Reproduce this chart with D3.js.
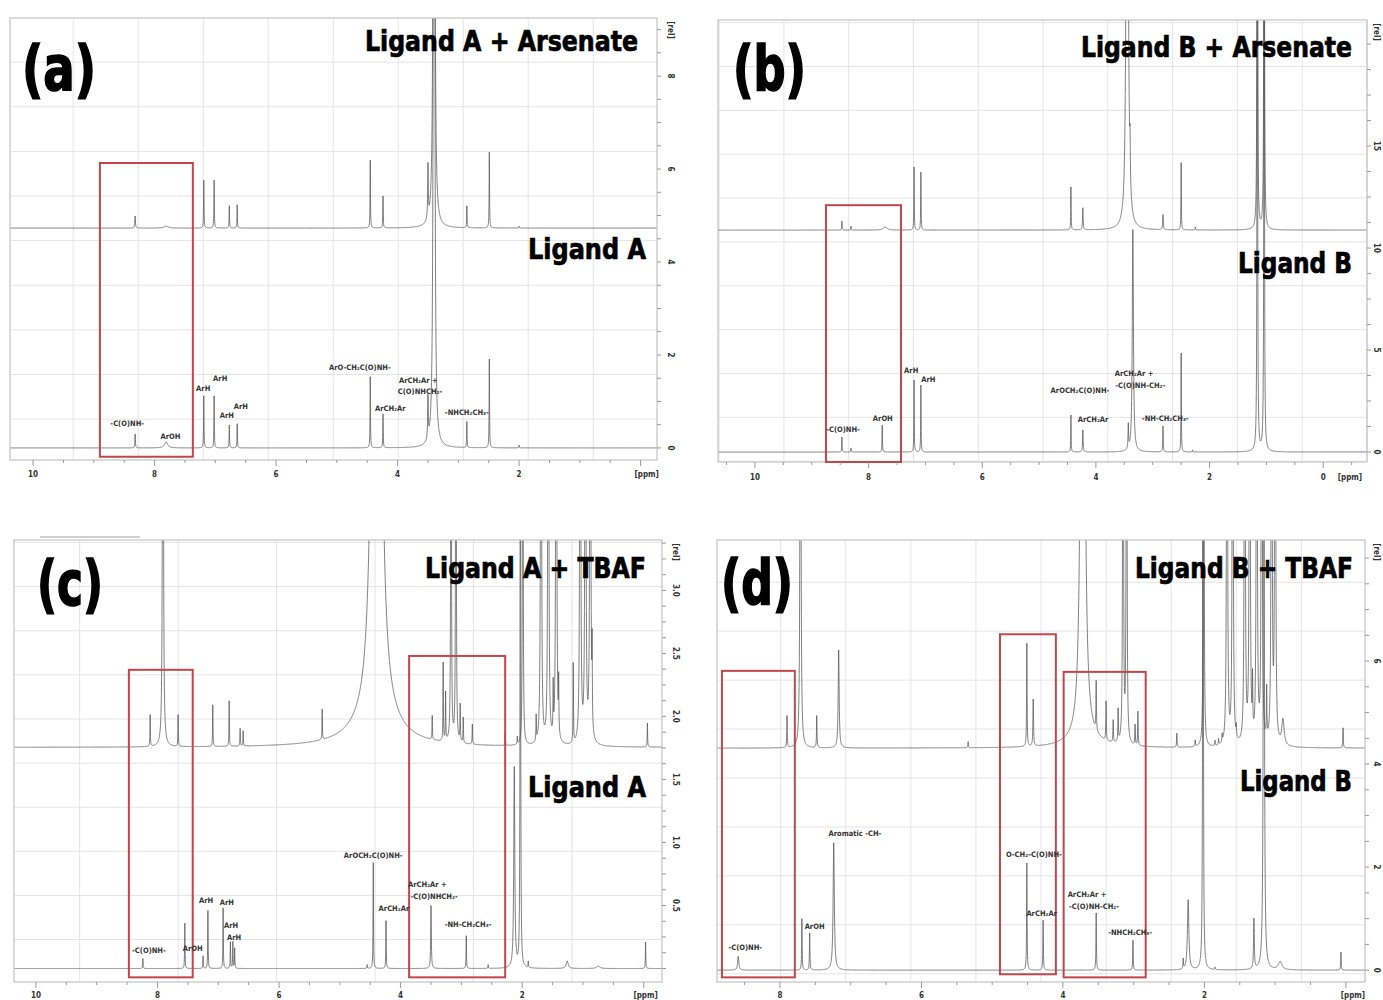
<!DOCTYPE html>
<html>
<head>
<meta charset="utf-8">
<script src="https://cdn.jsdelivr.net/npm/d3@7"></script>
<style>
body { margin: 0; background: #fff; }
svg text { font-family: "Liberation Sans Narrow", "DejaVu Sans Condensed", "Liberation Sans", sans-serif; }
.title { font-weight: bold; fill: #000; stroke: #000; stroke-width: 0.7px; }
.letter { font-weight: bold; fill: #000; stroke: #000; stroke-width: 1.6px; }
.plabel { font-weight: bold; font-size: 7.5px; fill: #333; }
.tlabel { font-weight: bold; font-size: 8px; fill: #333; }
</style>
</head>
<body>
<svg id="fig" width="1383" height="1000"></svg>
<script>
(function(){

// ---- data: peaks are [ppm, height (rel), half width (ppm, optional)] ----

// (a) Ligand A + Arsenate / Ligand A
let aTitle = "Ligand A + Arsenate", aSub = "Ligand A";
let aPpm = [10.38, -0.27], aRel = [-0.26, 9.25], aTopBase = 4.73;
let aTopPeaks = [[8.32,0.26,0.006],[7.81,0.04,0.04],[7.19,1.03],[7.02,1.03],[6.77,0.48],[6.64,0.5],
  [4.45,1.46],[4.24,0.69],[3.50,1.16,0.006],[3.40,40,0.008],[2.86,0.47],[2.49,1.63],[2.0,0.04]];
let aBotPeaks = [[8.32,0.30,0.005],[7.81,0.13,0.03],[7.19,1.12],[7.02,1.12],[6.77,0.49],[6.64,0.52],
  [4.45,1.53],[4.24,0.73],[3.50,0.90,0.006],[3.40,40,0.008],[2.86,0.56],[2.49,1.91],[2.0,0.06]];
let aBoxes = [[8.90,7.37,6.13,-0.19]];
let aLabels = [["-C(O)NH-",8.45,0.47],["ArOH",7.74,0.19],["ArH",7.20,1.23],["ArH",6.92,1.44],
  ["ArH",6.81,0.65],["ArH",6.58,0.84],["ArO-CH\u2082C(O)NH-",4.62,1.68],["ArCH\u2082Ar +",3.66,1.40],
  ["C(O)NHCH\u2082-",3.63,1.16],["ArCH\u2082Ar",4.12,0.80],["-NHCH\u2082CH\u2083-",2.86,0.71]];
let aXTicks = [[10,"10"],[8,"8"],[6,"6"],[4,"4"],[2,"2"],[-0.1,"[ppm]"]];
let aYTicks = [0,2,4,6,8];

// (b) Ligand B + Arsenate / Ligand B
let bTitle = "Ligand B + Arsenate", bSub = "Ligand B";
let bPpm = [10.65, -0.77], bRel = [-0.49, 21.18], bTopBase = 10.88;
let bTopPeaks = [[8.47,0.44],[8.31,0.2],[7.71,0.15,0.04],[7.20,3.09],[7.08,2.84],[4.44,2.11],
  [4.23,1.08,0.006],[3.45,60,0.012],[3.40,1.9,0.006],[2.82,0.74,0.006],[2.50,3.3],[2.25,0.15],
  [1.16,60],[1.04,60]];
let bBotPeaks = [[8.47,0.74],[8.31,0.2],[7.76,1.32],[7.20,3.53],[7.08,3.28],[4.44,1.81],
  [4.23,1.08,0.006],[3.43,1.2,0.006],[3.35,10.9,0.012],[2.82,1.27,0.005],[2.50,4.85],[2.3,0.1],
  [1.16,60],[1.04,60]];
let bBoxes = [[8.75,7.43,12.1,-0.49]];
let bLabels = [["-C(O)NH-",8.45,0.98],["ArOH",7.75,1.52],["ArH",7.25,3.87],["ArH",6.95,3.43],
  ["ArOCH\u2082C(O)NH-",4.28,2.89],["ArCH\u2082Ar",4.05,1.47],["ArCH\u2082Ar +",3.33,3.73],
  ["-C(O)NH-CH\u2082-",3.22,3.14],["-NH-CH\u2082CH\u2083-",2.78,1.52]];
let bXTicks = [[10,"10"],[8,"8"],[6,"6"],[4,"4"],[2,"2"],[0,"0"],[-0.47,"[ppm]"]];
let bYTicks = [0,5,10,15];

// (c) Ligand A + TBAF / Ligand A
let cTitle = "Ligand A + TBAF", cSub = "Ligand A";
let cPpm = [10.36, -0.30], cRel = [-0.107, 3.40], cTopBase = 1.754;
let cTopPeaks = [[8.12,0.25],[7.91,8,0.006],[7.66,0.25],[7.09,0.33],[6.82,0.36],[6.64,0.14],[6.59,0.12],
  [5.29,0.24],[4.395,27,0.03],[4.395,0.2,0.4],[3.48,0.19],[3.30,0.62],[3.26,0.38],[3.17,8],[3.09,8],
  [3.02,0.29],[2.97,0.2],[2.82,0.16],[2.28,0.1],[2.08,0.06],[1.99,8],[1.77,0.2],[1.69,8,0.006],
  [1.57,8,0.006],[1.49,0.38],[1.44,8,0.006],[1.40,0.4],[1.16,0.63],[1.045,8,0.006],[0.96,8,0.006],
  [0.88,8,0.006],[0.85,0.6],[-0.06,0.19]];
let cBotPeaks = [[8.24,0.08],[7.55,0.36],[7.25,0.1],[7.17,0.46],[6.92,0.48],[6.80,0.21],[6.76,0.21],
  [6.73,0.16],[4.55,0.03],[4.45,0.84],[4.24,0.38],[3.50,0.5,0.006],[2.92,0.26],[2.56,0.03],
  [2.13,1.59,0.01],[2.03,8],[1.90,0.05],[1.26,0.06,0.02],[0.75,0.02,0.03],[-0.03,0.21]];
let cBoxes = [[8.47,7.42,2.37,-0.07],[3.86,2.28,2.48,-0.07]];
let cLabels = [["-C(O)NH-",8.14,0.12],["ArOH",7.42,0.14],["ArH",7.20,0.52],["ArH",6.86,0.50],
  ["ArH",6.79,0.32],["ArH",6.74,0.23],["ArOCH\u2082C(O)NH-",4.45,0.88],["ArCH\u2082Ar",4.11,0.46],
  ["ArCH\u2082Ar +",3.56,0.65],["-C(O)NHCH\u2082-",3.45,0.55],["-NH-CH\u2082CH\u2083-",2.89,0.33]];
let cXTicks = [[10,"10"],[8,"8"],[6,"6"],[4,"4"],[2,"2"],[-0.03,"[ppm]"]];
let cYTicks = [0.5,1.0,1.5,2.0,2.5,3.0];

// (d) Ligand B + TBAF / Ligand B
let dTitle = "Ligand B + TBAF", dSub = "Ligand B";
let dPpm = [8.89, -0.27], dRel = [-0.23, 8.35], dTopBase = 4.31;
let dTopPeaks = [[7.90,0.62],[7.71,20,0.005],[7.48,0.62],[7.17,1.9,0.008],[5.34,0.12],[4.51,2.0],
  [4.42,0.91,0.005],[3.72,25,0.02],[3.72,0.12,0.3],[3.53,0.95],[3.39,0.76],[3.29,0.43],[3.22,0.62],
  [3.15,20],[3.10,20],[2.98,0.39],[2.94,0.66],[2.39,0.27],[2.13,0.12],[2.01,20],[1.85,0.1],[1.80,0.12],
  [1.75,0.15],[1.68,20,0.005],[1.60,20,0.005],[1.55,0.2],[1.43,20,0.005],[1.36,20,0.005],[1.32,1.0],
  [1.26,20,0.005],[1.19,20,0.005],[1.12,0.95],[1.05,20,0.005],[1.0,20,0.005],[0.89,0.5,0.02],[0.04,0.39]];
let dBotPeaks = [[8.59,0.27,0.01],[7.69,1.0],[7.58,0.72],[7.24,2.47,0.01],[4.51,2.08],[4.28,0.97],
  [3.53,1.11],[3.01,0.58],[2.30,0.19],[2.23,1.36,0.012],[2.02,20],[1.85,0.05],[1.30,0.97,0.006],
  [1.16,20,0.006],[0.93,0.16,0.03],[0.07,0.35]];
let dBoxes = [[8.82,7.79,5.81,-0.14],[4.89,4.10,6.52,-0.08],[3.99,2.83,5.79,-0.14]];
let dLabels = [["-C(O)NH-",8.49,0.39],["ArOH",7.51,0.80],["Aromatic -CH-",6.94,2.60],
  ["O-CH\u2082-C(O)NH-",4.41,2.19],["ArCH\u2082Ar",4.30,1.05],["ArCH\u2082Ar +",3.66,1.42],
  ["-C(O)NH-CH\u2082-",3.56,1.18],["-NHCH\u2082CH\u2083-",3.05,0.68]];
let dXTicks = [[8,"8"],[6,"6"],[4,"4"],[2,"2"],[-0.1,"[ppm]"]];
let dYTicks = [0,2,4,6];

// ---- layout ----
let panels = [
  {id:"a", letter:"(a)", title:aTitle, sub:aSub, ppm:aPpm, rel:aRel, topBase:aTopBase,
   top:aTopPeaks, bot:aBotPeaks, boxes:aBoxes, labels:aLabels, xt:aXTicks, yt:aYTicks,
   frame:{l:10,t:18,r:657,b:460}, yMinor:0.5, yFmt:"d", yOff:11, gx:[9.34,1.07], gy:[8.30,0.96],
   letterPos:[22,90,74], titlePos:[638,51,273], subPos:[646,259,118], xLab:477},
  {id:"b", letter:"(b)", title:bTitle, sub:bSub, ppm:bPpm, rel:bRel, topBase:bTopBase,
   top:bTopPeaks, bot:bBotPeaks, boxes:bBoxes, labels:bLabels, xt:bXTicks, yt:bYTicks,
   frame:{l:718,t:20,r:1367,b:462}, yMinor:1.25, yFmt:"d", yOff:7, gx:[9.49,1.14], gy:[18.9,2.15],
   letterPos:[733,90,73], titlePos:[1352,57,271], subPos:[1352,273,114], xLab:480},
  {id:"c", letter:"(c)", title:cTitle, sub:cSub, ppm:cPpm, rel:cRel, topBase:cTopBase,
   top:cTopPeaks, bot:cBotPeaks, boxes:cBoxes, labels:cLabels, xt:cXTicks, yt:cYTicks,
   frame:{l:14,t:540,r:662,b:982}, yMinor:0.125, yFmt:".1f", yOff:11, gx:[9.28,1.62], gy:[3.03,0.35],
   letterPos:[37,605,66], titlePos:[646,578,221], subPos:[646,797,118], xLab:998},
  {id:"d", letter:"(d)", title:dTitle, sub:dSub, ppm:dPpm, rel:dRel, topBase:dTopBase,
   top:dTopPeaks, bot:dBotPeaks, boxes:dBoxes, labels:dLabels, xt:dXTicks, yt:dYTicks,
   frame:{l:717,t:540,r:1365,b:982}, yMinor:0.5, yFmt:"d", yOff:9, gx:[4.31,0.92], gy:[7.53,0.95],
   letterPos:[721,604,72], titlePos:[1353,578,218], subPos:[1352,791,112], xLab:998}
];

let svg = d3.select("#fig");

// sum of lorentzian lines for a peak list
function spectrum(peaks, base, dom)
{
  let lo = Math.min(dom[0], dom[1]), hi = Math.max(dom[0], dom[1]);
  let xs = d3.range(lo, hi, 0.002);
  peaks.forEach(p => {
    let w = p[2] || 0.004;
    xs.push(p[0], p[0] - w, p[0] + w);
  });
  xs.sort((a, b) => a - b);
  return xs.map(v => [v, base + d3.sum(peaks, p => {
    let w = p[2] || 0.004;
    return p[1] * w * w / ((v - p[0]) * (v - p[0]) + w * w);
  })]);
}

function drawPanel(p)
{
  let f = p.frame;
  let x = d3.scaleLinear().domain(p.ppm).range([f.l, f.r]);
  let y = d3.scaleLinear().domain(p.rel).range([f.b, f.t]);
  let g = svg.append("g");

  g.append("clipPath").attr("id", "clip-" + p.id)
    .append("rect").attr("x", f.l).attr("y", f.t)
    .attr("width", f.r - f.l).attr("height", f.b - f.t);

  // faint grid
  let lo = Math.min(p.ppm[0], p.ppm[1]), hi = Math.max(p.ppm[0], p.ppm[1]);
  let gxs = [];
  for (let v = p.gx[0]; v > lo; v -= p.gx[1]) gxs.push(v);
  for (let v = p.gx[0] + p.gx[1]; v < hi; v += p.gx[1]) gxs.push(v);
  let gys = [];
  for (let v = p.gy[0]; v > p.rel[0]; v -= p.gy[1]) gys.push(v);
  for (let v = p.gy[0] + p.gy[1]; v < p.rel[1]; v += p.gy[1]) gys.push(v);

  g.selectAll(".gx").data(gxs).enter().append("line")
    .attr("x1", d => x(d)).attr("x2", d => x(d))
    .attr("y1", f.t).attr("y2", f.b)
    .style("stroke", "#e4e4e4").style("stroke-width", 1);
  g.selectAll(".gy").data(gys).enter().append("line")
    .attr("x1", f.l).attr("x2", f.r)
    .attr("y1", d => y(d)).attr("y2", d => y(d))
    .style("stroke", "#e4e4e4").style("stroke-width", 1);

  // spectra
  let line = d3.line().x(d => x(d[0])).y(d => y(d[1]));
  let specs = [spectrum(p.bot, 0, p.ppm), spectrum(p.top, p.topBase, p.ppm)];
  g.append("g").attr("clip-path", "url(#clip-" + p.id + ")")
    .selectAll("path").data(specs).enter().append("path")
    .attr("d", line)
    .style("fill", "none")
    .style("stroke", "#555")
    .style("stroke-width", 0.75);

  // frame
  g.append("rect").attr("x", f.l).attr("y", f.t)
    .attr("width", f.r - f.l).attr("height", f.b - f.t)
    .style("fill", "none").style("stroke", "#c4c4c4").style("stroke-width", 1.2);

  // red boxes
  g.selectAll(".box").data(p.boxes).enter().append("rect")
    .attr("x", d => x(d[0])).attr("y", d => y(d[2]))
    .attr("width", d => x(d[1]) - x(d[0]))
    .attr("height", d => y(d[3]) - y(d[2]))
    .style("fill", "none").style("stroke", "#c0474b").style("stroke-width", 2);

  // peak labels
  g.selectAll(".plabel").data(p.labels).enter().append("text")
    .attr("class", "plabel")
    .attr("x", d => x(d[1])).attr("y", d => y(d[2]))
    .attr("text-anchor", "middle")
    .text(d => d[0]);

  // bottom axis ticks
  let minor = [];
  for (let v = Math.ceil(lo * 2) / 2; v <= hi; v += 0.5) minor.push(v);
  g.selectAll(".xt").data(minor).enter().append("line")
    .attr("x1", d => x(d)).attr("x2", d => x(d))
    .attr("y1", f.b).attr("y2", d => f.b + (Math.abs(d % 2) < 1e-6 ? 6 : 3))
    .style("stroke", "#999").style("stroke-width", 1);
  g.selectAll(".xl").data(p.xt).enter().append("text")
    .attr("class", "tlabel")
    .attr("x", d => x(d[0])).attr("y", p.xLab)
    .attr("text-anchor", "middle")
    .text(d => d[1]);

  // right axis
  let yminor = d3.range(Math.ceil(p.rel[0] / p.yMinor) * p.yMinor, p.rel[1], p.yMinor);
  g.selectAll(".yt").data(yminor).enter().append("line")
    .attr("x1", f.r).attr("x2", f.r + 4)
    .attr("y1", d => y(d)).attr("y2", d => y(d))
    .style("stroke", "#999").style("stroke-width", 1);
  let fmt = d3.format(p.yFmt);
  g.selectAll(".yl").data(p.yt).enter().append("text")
    .attr("class", "tlabel")
    .attr("transform", d => "translate(" + (f.r + p.yOff) + "," + y(d) + ") rotate(90)")
    .attr("text-anchor", "middle")
    .text(d => fmt(d));
  g.append("text").attr("class", "tlabel")
    .attr("transform", "translate(" + (f.r + p.yOff) + "," + (f.t + 12) + ") rotate(90)")
    .attr("text-anchor", "middle")
    .text("[rel]");

  // titles
  g.append("text").attr("class", "letter")
    .attr("x", p.letterPos[0]).attr("y", p.letterPos[1])
    .attr("textLength", p.letterPos[2]).attr("lengthAdjust", "spacingAndGlyphs")
    .style("font-size", "62px")
    .text(p.letter);
  g.append("text").attr("class", "title")
    .attr("x", p.titlePos[0] - p.titlePos[2]).attr("y", p.titlePos[1])
    .attr("textLength", p.titlePos[2]).attr("lengthAdjust", "spacingAndGlyphs")
    .style("font-size", "29px")
    .text(p.title);
  g.append("text").attr("class", "title")
    .attr("x", p.subPos[0] - p.subPos[2]).attr("y", p.subPos[1])
    .attr("textLength", p.subPos[2]).attr("lengthAdjust", "spacingAndGlyphs")
    .style("font-size", "29px")
    .text(p.sub);
}

panels.forEach(drawPanel);

// faint strip above panel (c)
svg.append("rect").attr("x", 40).attr("y", 536).attr("width", 100).attr("height", 2)
  .style("fill", "#d0d0d0");

})();
</script>
</body>
</html>
